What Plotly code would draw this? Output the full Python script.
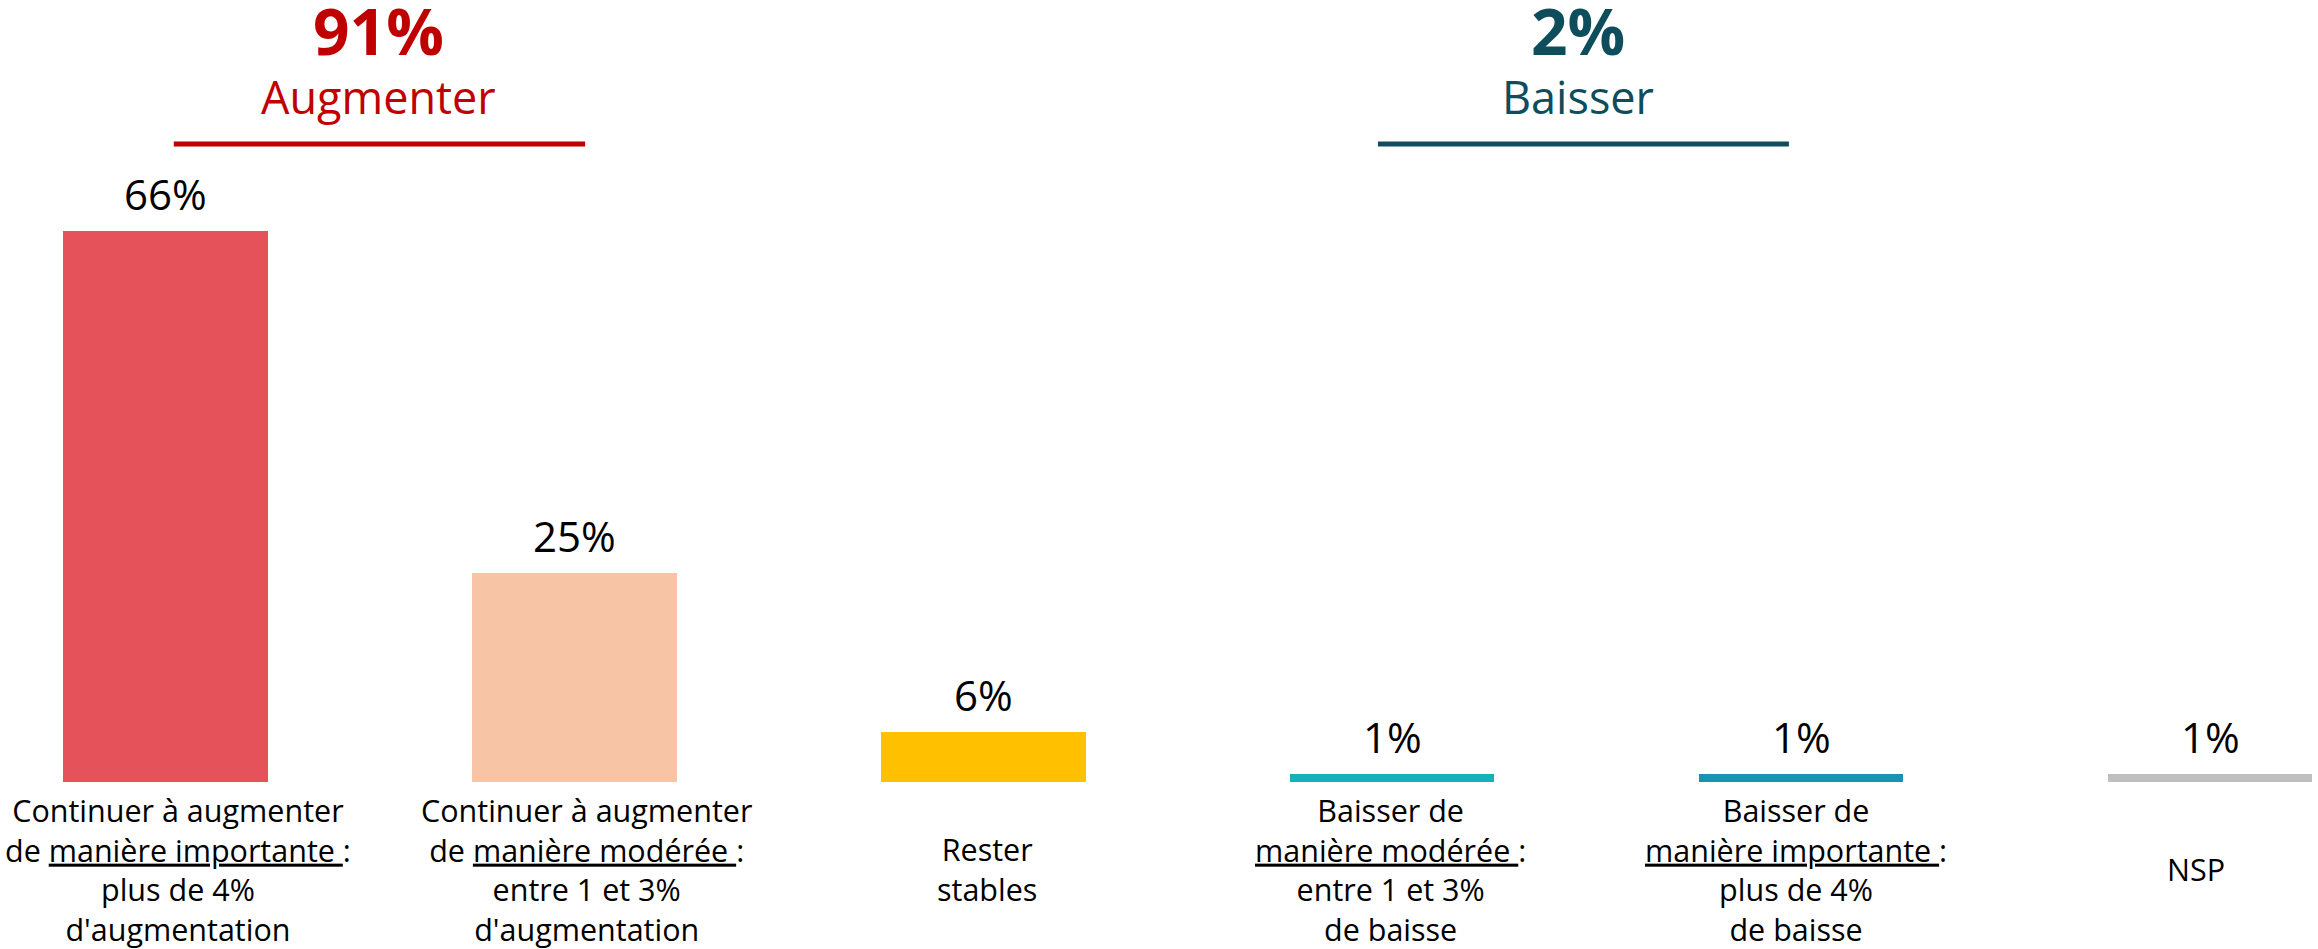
import plotly.graph_objects as go

categories = [
    "Continuer à augmenter<br>de <u>manière importante </u>:<br>plus de 4%<br>d'augmentation",
    "Continuer à augmenter<br>de <u>manière modérée </u>:<br>entre 1 et 3%<br>d'augmentation",
    "Rester<br>stables",
    "Baisser de<br><u>manière modérée </u>:<br>entre 1 et 3%<br>de baisse",
    "Baisser de<br><u>manière importante </u>:<br>plus de 4%<br>de baisse",
    "NSP",
]
values = [66, 25, 6, 1, 1, 1]
value_labels = ["66%", "25%", "6%", "1%", "1%", "1%"]
bar_colors = ["#E6525A", "#F7C4A5", "#FFC000", "#16B1B6", "#1793B3", "#BFBFBF"]

group_totals = ["91%", "2%"]
group_names = ["Augmenter", "Baisser"]
group_colors = ["#C00000", "#0E4D5C"]

# layout geometry (positions on the category axis / pixel nudges)
group_line_spans = [(0.02, 1.026), (2.965, 3.97)]
group_centers = [0.52, 3.455]
label_xshift = [12, 12, 4, -2, -5, -14]

FONT = "Open Sans"
W, H = 2318, 949
BOTTOM = 167
plot_h = H - BOTTOM

xpos = list(range(len(categories)))

fig = go.Figure()
fig.add_trace(go.Bar(
    x=xpos, y=values, width=0.5,
    marker=dict(color=bar_colors, line=dict(width=0)),
    hoverinfo="skip",
))

annotations = []
for i, (v, t) in enumerate(zip(values, value_labels)):
    annotations.append(dict(
        x=i, xref="x", y=v, yref="y", text=t, showarrow=False,
        xanchor="center", yanchor="bottom", yshift=7,
        font=dict(family=FONT, size=42, color="#000000"),
    ))

for i, lab in enumerate(categories):
    annotations.append(dict(
        x=i, xref="x", y=-(869 - plot_h) / plot_h, yref="paper",
        text=lab, showarrow=False, xanchor="center", yanchor="middle",
        xshift=label_xshift[i],
        font=dict(family=FONT, size=30.5, color="#000000"), align="center",
    ))

shapes = []
for (x0, x1), cx, tot, name, col in zip(group_line_spans, group_centers,
                                         group_totals, group_names, group_colors):
    annotations.append(dict(
        x=cx, xref="x", y=1 - 31 / plot_h, yref="paper",
        text="<b>" + tot + "</b>", showarrow=False, xanchor="center", yanchor="middle",
        font=dict(family=FONT, size=64, color=col),
    ))
    annotations.append(dict(
        x=cx, xref="x", y=1 - 96 / plot_h, yref="paper",
        text=name, showarrow=False, xanchor="center", yanchor="middle",
        font=dict(family=FONT, size=45, color=col),
    ))
    shapes.append(dict(
        type="line", xref="x", yref="paper",
        x0=x0, x1=x1, y0=1 - 144 / plot_h, y1=1 - 144 / plot_h,
        line=dict(color=col, width=5),
    ))

fig.update_layout(
    width=W, height=H,
    margin=dict(l=0, r=0, t=0, b=BOTTOM),
    paper_bgcolor="white", plot_bgcolor="white",
    showlegend=False,
    xaxis=dict(range=[-0.405, 5.264], showticklabels=False, showgrid=False,
               zeroline=False, showline=False, ticks=""),
    yaxis=dict(range=[0, plot_h / 8.35], visible=False, showgrid=False, zeroline=False),
    annotations=annotations, shapes=shapes,
    bargap=0,
)

fig.write_html(
    "out.html",
    config={"displayModeBar": False},
    post_script="document.body.style.margin='0';document.body.style.padding='0';"
                "document.body.style.overflow='hidden';",
)
